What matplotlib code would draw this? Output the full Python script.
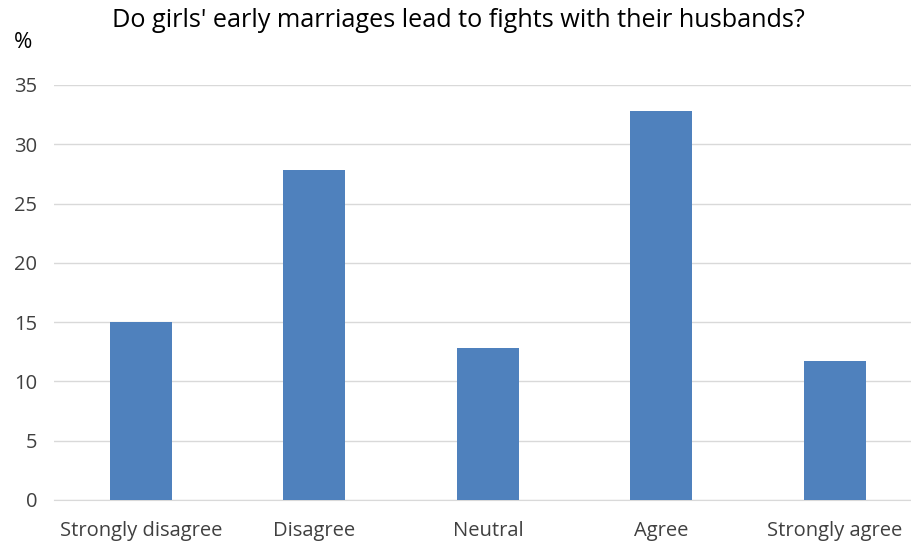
import matplotlib.pyplot as plt

categories = ["Strongly disagree", "Disagree", "Neutral", "Agree", "Strongly agree"]
values = [15.0, 27.8, 12.8, 32.8, 11.7]
yticks = [0, 5, 10, 15, 20, 25, 30, 35]

plt.rcParams['font.family'] = ['Open Sans', 'DejaVu Sans']

fig = plt.figure(figsize=(9.12, 5.48), dpi=100)
ax = fig.add_axes([0.0592, 0.0876, 0.9515, 0.7574])

x = list(range(len(categories)))
ax.bar(x, values, width=0.357, color="#4F81BD", zorder=3)

ax.set_xlim(-0.5, len(categories) - 0.5)
ax.set_ylim(0, 35)
ax.set_yticks(yticks)
ax.set_xticks(x)
ax.set_xticklabels(categories, fontsize=14.5, color="#404040")
ax.tick_params(axis='y', labelsize=14.5, labelcolor="#404040", length=0, pad=12)
ax.tick_params(axis='x', length=0, pad=15)
ax.grid(axis='y', color="#D9D9D9", linewidth=1, zorder=0)

for s in ["top", "right", "left"]:
    ax.spines[s].set_visible(False)
ax.spines["bottom"].set_color("#D9D9D9")

fig.text(0.503, 0.962, "Do girls' early marriages lead to fights with their husbands?",
         ha='center', va='center', fontsize=18.2, color="black")
fig.text(0.025, 0.922, "%", ha='center', va='center', fontsize=16, color="black")

fig.savefig("out.png", dpi=100)
